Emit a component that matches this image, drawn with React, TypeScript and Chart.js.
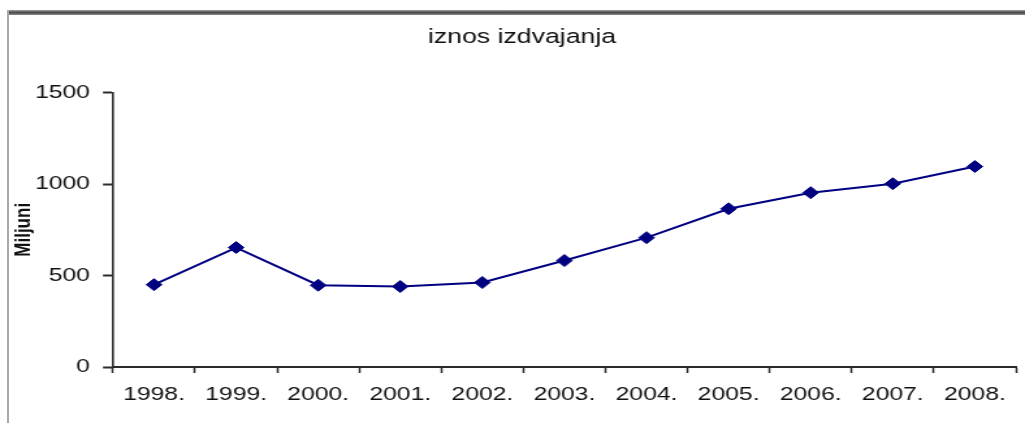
import React, { useEffect, useRef } from "react";
import { Chart, registerables } from "chart.js";

Chart.register(...registerables);

const years = ["1998.", "1999.", "2000.", "2001.", "2002.", "2003.", "2004.", "2005.", "2006.", "2007.", "2008."];
const amounts = [450, 653, 447, 440, 462, 582, 707, 865, 953, 1002, 1096];
const yTicks = [0, 500, 1000, 1500];
const chartTitle = "iznos izdvajanja";
const yTitle = "Miljuni";

const PAGE_W = 1025;
const PAGE_H = 423;
const INNER_W = 788;
const SX = PAGE_W / INNER_W;
const FONT = "'Liberation Sans', Arial, Helvetica, sans-serif";

export default function App() {
  const ref = useRef<HTMLCanvasElement | null>(null);

  useEffect(() => {
    if (!ref.current) return;
    const chart = new Chart(ref.current, {
      type: "line",
      data: {
        labels: years,
        datasets: [
          {
            data: amounts,
            borderColor: "#000080",
            backgroundColor: "#000080",
            borderWidth: 2,
            pointStyle: "rectRot",
            pointRadius: 6,
            pointBackgroundColor: "#000080",
            pointBorderColor: "#000080",
            pointBorderWidth: 1,
            tension: 0,
            fill: false,
          },
        ],
      },
      options: {
        animation: false,
        responsive: true,
        maintainAspectRatio: false,
        layout: { padding: { left: 21.5, right: 6.92, top: 10, bottom: 0 } },
        plugins: {
          legend: { display: false },
          tooltip: { enabled: false },
          title: {
            display: true,
            text: chartTitle,
            color: "#111",
            font: { family: FONT, size: 20.5, weight: "normal" },
            padding: { top: 15, bottom: 43 },
          },
        },
        scales: {
          x: {
            type: "category",
            offset: true,
            grid: {
              offset: true,
              drawOnChartArea: false,
              drawTicks: true,
              tickLength: 6,
              tickWidth: 1.5,
              tickColor: "#2a2a2a",
            },
            border: { display: true, color: "#2a2a2a", width: 2 },
            ticks: {
              color: "#111",
              font: { family: FONT, size: 19 },
              padding: 10,
              maxRotation: 0,
              autoSkip: false,
            },
            afterFit: (scale: any) => {
              scale.height = 56;
            },
          },
          y: {
            min: 0,
            max: 1500,
            afterBuildTicks: (scale: any) => {
              scale.ticks = yTicks.map((v) => ({ value: v }));
            },
            grid: {
              drawOnChartArea: false,
              drawTicks: true,
              tickLength: 7.7,
              tickWidth: 2,
              tickColor: "#2a2a2a",
            },
            border: { display: true, color: "#2a2a2a", width: 1.6 },
            ticks: {
              color: "#111",
              font: { family: FONT, size: 19 },
              padding: 10,
              callback: (value: any) => String(value),
            },
            title: {
              display: true,
              text: yTitle,
              color: "#111",
              font: { family: FONT, size: 17, weight: "bold" },
              padding: { top: -12.9, bottom: 0 },
            },
            afterFit: (scale: any) => {
              scale.width = 65.37;
            },
          },
        },
      },
    });
    return () => chart.destroy();
  }, []);

  return (
    <div
      style={{
        position: "absolute",
        left: 0,
        top: 0,
        width: PAGE_W,
        height: PAGE_H,
        overflow: "hidden",
        background: "#fff",
      }}
    >
      <div
        style={{
          position: "absolute",
          left: 7,
          top: 10,
          width: PAGE_W - 7,
          height: 5,
          background: "linear-gradient(#a0a0a0, #4a4a4a 50%, #8a8a8a)",
        }}
      />
      <div
        style={{
          position: "absolute",
          left: 7,
          top: 10,
          width: 2,
          height: PAGE_H - 10,
          background: "#a8a8a8",
        }}
      />
      <div
        style={{
          position: "absolute",
          left: 0,
          top: 0,
          width: INNER_W,
          height: PAGE_H,
          transform: `scaleX(${SX})`,
          transformOrigin: "0 0",
        }}
      >
        <canvas ref={ref} />
      </div>
    </div>
  );
}
